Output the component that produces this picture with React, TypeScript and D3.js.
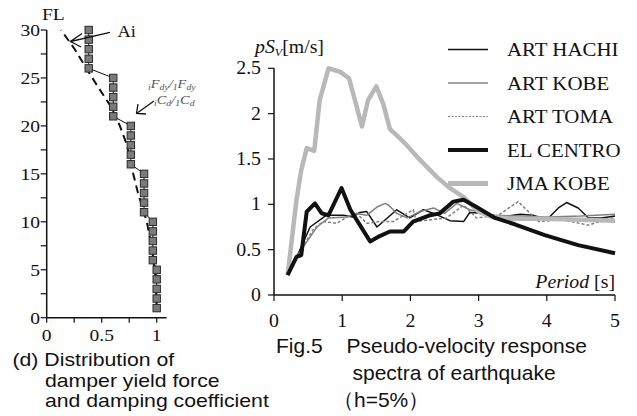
import React from 'react';
import * as d3 from 'd3';

// ---- left panel: damper distribution along height ----
const floorNo = [1, 2, 3, 4, 5, 6, 7, 8, 9, 10, 11, 12, 13, 14, 15, 16, 17, 18, 19, 20, 21, 22, 23, 24, 25, 26, 27, 28, 29, 30];
const damperRatio = [
  1, 1, 1, 1, 1,
  0.965, 0.965, 0.965, 0.965, 0.965,
  0.885, 0.885, 0.885, 0.885, 0.885,
  0.765, 0.765, 0.765, 0.765, 0.765,
  0.605, 0.605, 0.605, 0.605, 0.605,
  0.382, 0.382, 0.382, 0.382, 0.382,
];
const aiFloor = [1, 4, 7, 10, 13, 16, 18, 20, 22, 24, 26, 28, 30];
const aiValue = [1.0, 0.99, 0.96, 0.91, 0.83, 0.765, 0.73, 0.665, 0.585, 0.47, 0.36, 0.255, 0.13];
const leftYTicks = [0, 5, 10, 15, 20, 25, 30];
const leftYMinor = [2.5, 7.5, 12.5, 17.5, 22.5, 27.5];
const leftXTicks = [0, 0.25, 0.5, 0.75, 1];
const leftXLabels = [0, 0.5, 1];

// ---- right panel: pseudo-velocity response spectra ----
const hachiT = [0.2, 0.35, 0.53, 0.77, 1.02, 1.15, 1.26, 1.36, 1.51, 1.8, 1.99, 2.19, 2.34, 2.58, 2.78, 2.87, 3.12, 3.31, 3.61, 3.8, 4.0, 4.17, 4.29, 4.46, 4.61, 4.8, 5.0];
const hachiV = [0.24, 0.45, 0.75, 0.88, 0.88, 0.86, 0.91, 0.92, 0.75, 0.94, 0.85, 0.94, 0.9, 0.82, 0.81, 0.91, 0.9, 0.86, 0.89, 0.88, 0.83, 0.96, 1.02, 0.96, 0.85, 0.85, 0.87];
const kobeT = [0.2, 0.4, 0.63, 0.8, 1.07, 1.21, 1.36, 1.51, 1.63, 1.68, 1.8, 1.95, 2.14, 2.34, 2.5, 2.68, 2.87, 3.2, 3.6, 4.0, 4.5, 5.0];
const kobeV = [0.24, 0.5, 0.75, 0.85, 0.86, 0.9, 0.88, 0.97, 1.01, 0.99, 0.9, 0.85, 0.92, 0.96, 0.9, 1.01, 0.94, 0.88, 0.87, 0.86, 0.87, 0.89];
const tomaT = [0.2, 0.4, 0.58, 0.72, 0.92, 1.07, 1.21, 1.36, 1.55, 1.75, 1.95, 2.04, 2.09, 2.3, 2.53, 2.78, 2.97, 3.29, 3.58, 3.88, 4.22, 4.61, 4.85, 5.0];
const tomaV = [0.22, 0.5, 0.73, 0.81, 0.79, 0.86, 0.9, 0.79, 0.81, 0.81, 0.9, 0.94, 0.81, 0.83, 0.85, 0.99, 0.85, 0.88, 1.03, 0.81, 0.83, 0.77, 0.83, 0.86];
const centroT = [0.2, 0.33, 0.4, 0.48, 0.6, 0.7, 0.8, 0.99, 1.12, 1.26, 1.41, 1.55, 1.7, 1.9, 2.04, 2.29, 2.43, 2.63, 2.78, 2.97, 3.24, 3.53, 3.97, 4.46, 5.0];
const centroV = [0.22, 0.42, 0.44, 0.92, 1.01, 0.9, 0.88, 1.18, 0.94, 0.77, 0.59, 0.65, 0.7, 0.7, 0.81, 0.88, 0.9, 1.03, 1.05, 0.97, 0.85, 0.78, 0.66, 0.55, 0.46];
const jmaT = [0.2, 0.33, 0.4, 0.48, 0.59, 0.67, 0.8, 0.97, 1.1, 1.29, 1.38, 1.5, 1.6, 1.7, 1.8, 1.95, 2.14, 2.39, 2.56, 2.78, 3.0, 3.2, 3.5, 4.0, 4.5, 5.0];
const jmaV = [0.22, 1.05, 1.38, 1.62, 1.59, 2.15, 2.5, 2.46, 2.39, 1.86, 2.15, 2.3, 2.11, 1.83, 1.76, 1.65, 1.49, 1.3, 1.19, 1.08, 0.92, 0.86, 0.84, 0.84, 0.83, 0.82];
const seriesNames = ['ART HACHI', 'ART KOBE', 'ART TOMA', 'EL CENTRO', 'JMA KOBE'];
const rightYTicks = [0, 0.5, 1, 1.5, 2, 2.5];
const rightXTicks = [0, 1, 2, 3, 4, 5];

const SERIF = '"Liberation Serif", "Times New Roman", serif';
const SANS = '"Liberation Sans", Arial, sans-serif';

// stretched text (the source figure is scaled wider than tall)
function T({ x, y, sx = 1.1, size = 18, family = SERIF, anchor = 'start', children, ...rest }: any) {
  return (
    <text transform={`translate(${x},${y}) scale(${sx},1)`} fontSize={size} fontFamily={family}
      textAnchor={anchor} fill="#111" {...rest}>{children}</text>
  );
}

export default function App() {
  // left scales
  const lx = d3.scaleLinear().domain([0, 1]).range([46.7, 156.7]);
  const ly = d3.scaleLinear().domain([0, 30]).range([317.7, 30]);
  // right scales
  const rx = d3.scaleLinear().domain([0, 5]).range([274, 615]);
  const ry = d3.scaleLinear().domain([0, 2.5]).range([295, 68.3]);

  const damperLine = d3.line<number>().x((d) => lx(d)).y((_, i) => ly(floorNo[i]));
  const aiLine = d3.line<number>().x((d) => lx(d)).y((_, i) => ly(aiFloor[i]));

  const spec = (ts: number[], vs: number[]) =>
    d3.line<number>().x((d) => rx(d)).y((_, i) => ry(vs[i]))(ts) || '';

  const series = [
    { name: seriesNames[0], d: spec(hachiT, hachiV), stroke: '#111', w: 1.5, dash: undefined },
    { name: seriesNames[1], d: spec(kobeT, kobeV), stroke: '#808080', w: 1.5, dash: undefined },
    { name: seriesNames[2], d: spec(tomaT, tomaV), stroke: '#808080', w: 1.5, dash: '3,2' },
    { name: seriesNames[4], d: spec(jmaT, jmaV), stroke: '#b8b8b8', w: 4.5, dash: undefined },
    { name: seriesNames[3], d: spec(centroT, centroV), stroke: '#111', w: 4, dash: undefined },
  ];
  const legendStyle: any = {
    'ART HACHI': { stroke: '#111', w: 1.5 },
    'ART KOBE': { stroke: '#808080', w: 1.5 },
    'ART TOMA': { stroke: '#808080', w: 1, dash: '2,1.5' },
    'EL CENTRO': { stroke: '#111', w: 4 },
    'JMA KOBE': { stroke: '#b8b8b8', w: 5 },
  };

  return (
    <svg width={637} height={416} style={{ position: 'absolute', left: 0, top: 0, background: '#fff' }}>
      {/* ---------- left panel ---------- */}
      <g>
        <line x1={lx(0)} x2={lx(0)} y1={ly(0)} y2={ly(30)} stroke="#111" strokeWidth={1.5} />
        <line x1={lx(0)} x2={lx(1.09)} y1={ly(0)} y2={ly(0)} stroke="#111" strokeWidth={1.5} />
        {leftYTicks.concat(leftYMinor).map((t) => (
          <line key={'ly' + t} x1={lx(0) - 6} x2={lx(0)} y1={ly(t)} y2={ly(t)} stroke="#111" strokeWidth={1.2} />
        ))}
        {leftYTicks.map((t) => (
          <T key={'lyl' + t} x={40} y={ly(t) + 6} anchor="end" size={17} sx={1.15}>{t}</T>
        ))}
        {leftXTicks.map((t) => (
          <line key={'lx' + t} x1={lx(t)} x2={lx(t)} y1={ly(0)} y2={ly(0) + 5} stroke="#111" strokeWidth={1.2} />
        ))}
        {leftXLabels.map((t) => (
          <T key={'lxl' + t} x={lx(t)} y={340.5} anchor="middle" size={17} sx={1.15}>{t}</T>
        ))}
        <T x={42} y={20} size={17} sx={1.15}>FL</T>

        <path d={aiLine(aiValue) || ''} fill="none" stroke="#111" strokeWidth={2} strokeDasharray="8,5" />
        <path d={damperLine(damperRatio) || ''} fill="none" stroke="#111" strokeWidth={1} />
        {damperRatio.map((v, i) => (
          <rect key={'sq' + i} x={lx(v) - 3.7} y={ly(floorNo[i]) - 3.7} width={7.4} height={7.4}
            fill="#7a7a7a" stroke="#2a2a2a" strokeWidth={1} />
        ))}

        {/* Ai arrow */}
        <line x1={110} y1={32.3} x2={70.5} y2={41.5} stroke="#111" strokeWidth={1.3} />
        <polyline points="82,33.5 70.5,41.5 81,47" fill="none" stroke="#111" strokeWidth={1.3} />
        <T x={117.5} y={37} size={16} sx={1.15}>Ai</T>

        {/* damper arrow */}
        <line x1={154} y1={101} x2={136.5} y2={113.5} stroke="#111" strokeWidth={1.3} />
        <polyline points="138,104 136.5,113.5 146,114" fill="none" stroke="#111" strokeWidth={1.3} />
        <T x={148} y={87.5} size={12.5} sx={1.15} fill="#555" fontStyle="italic">
          <tspan fontSize={8.5} dy={2.5}>i</tspan><tspan dy={-2.5}>F</tspan><tspan fontSize={8.5} dy={2.5}>dy</tspan>
          <tspan dy={-2.5}>/</tspan><tspan fontSize={8.5} dy={2.5}>1</tspan><tspan dy={-2.5}>F</tspan><tspan fontSize={8.5} dy={2.5}>dy</tspan>
        </T>
        <T x={154} y={103.5} size={12.5} sx={1.15} fill="#555" fontStyle="italic">
          <tspan fontSize={8.5} dy={2.5}>i</tspan><tspan dy={-2.5}>C</tspan><tspan fontSize={8.5} dy={2.5}>d</tspan>
          <tspan dy={-2.5}>/</tspan><tspan fontSize={8.5} dy={2.5}>1</tspan><tspan dy={-2.5}>C</tspan><tspan fontSize={8.5} dy={2.5}>d</tspan>
        </T>

        <T x={12.5} y={366} size={18} sx={1.18} family={SANS}>(d) Distribution of</T>
        <T x={45} y={386.5} size={18} sx={1.18} family={SANS}>damper yield force</T>
        <T x={45} y={407} size={18} sx={1.18} family={SANS}>and damping coefficient</T>
      </g>

      {/* ---------- right panel ---------- */}
      <g>
        <line x1={rx(0)} x2={rx(0)} y1={ry(0)} y2={ry(2.5)} stroke="#111" strokeWidth={1.5} />
        <line x1={rx(0)} x2={rx(5)} y1={ry(0)} y2={ry(0)} stroke="#111" strokeWidth={1.5} />
        {rightYTicks.map((t) => (
          <g key={'ry' + t}>
            <line x1={rx(0) - 6} x2={rx(0)} y1={ry(t)} y2={ry(t)} stroke="#111" strokeWidth={1.2} />
            <T x={261} y={ry(t) + 6} anchor="end" size={18}>{t}</T>
          </g>
        ))}
        {rightXTicks.map((t) => (
          <g key={'rx' + t}>
            <line x1={rx(t)} x2={rx(t)} y1={ry(0)} y2={ry(0) + 6} stroke="#111" strokeWidth={1.2} />
            <T x={rx(t)} y={327} anchor="middle" size={18}>{t}</T>
          </g>
        ))}
        <T x={255} y={53} size={18}>
          <tspan fontStyle="italic">pS</tspan><tspan fontStyle="italic" fontSize={11} dy={3}>V</tspan>
          <tspan dy={-3}>[m/s]</tspan>
        </T>
        <T x={615} y={288} anchor="end" size={18}>
          <tspan fontStyle="italic">Period</tspan> [s]
        </T>

        {series.map((s) => (
          <path key={s.name} d={s.d} fill="none" stroke={s.stroke} strokeWidth={s.w}
            strokeDasharray={s.dash} strokeLinejoin="round" />
        ))}

        {seriesNames.map((n, i) => {
          const st = legendStyle[n];
          const y = 49.5 + i * 33.5;
          return (
            <g key={'lg' + n}>
              <line x1={448} x2={488} y1={y} y2={y} stroke={st.stroke} strokeWidth={st.w} strokeDasharray={st.dash} />
              <T x={507} y={y + 6.5} size={18.5} sx={1.13}>{n}</T>
            </g>
          );
        })}

        <T x={276} y={353} size={21} sx={1} family={SANS}>Fig.5</T>
        <T x={346.5} y={353} size={21} sx={1} family={SANS}>Pseudo-velocity response</T>
        <T x={352.5} y={380} size={21} sx={1} family={SANS}>spectra of earthquake</T>
        <T x={333} y={406.5} size={21} sx={1} family={SANS}>（h=5%）</T>
      </g>
    </svg>
  );
}
